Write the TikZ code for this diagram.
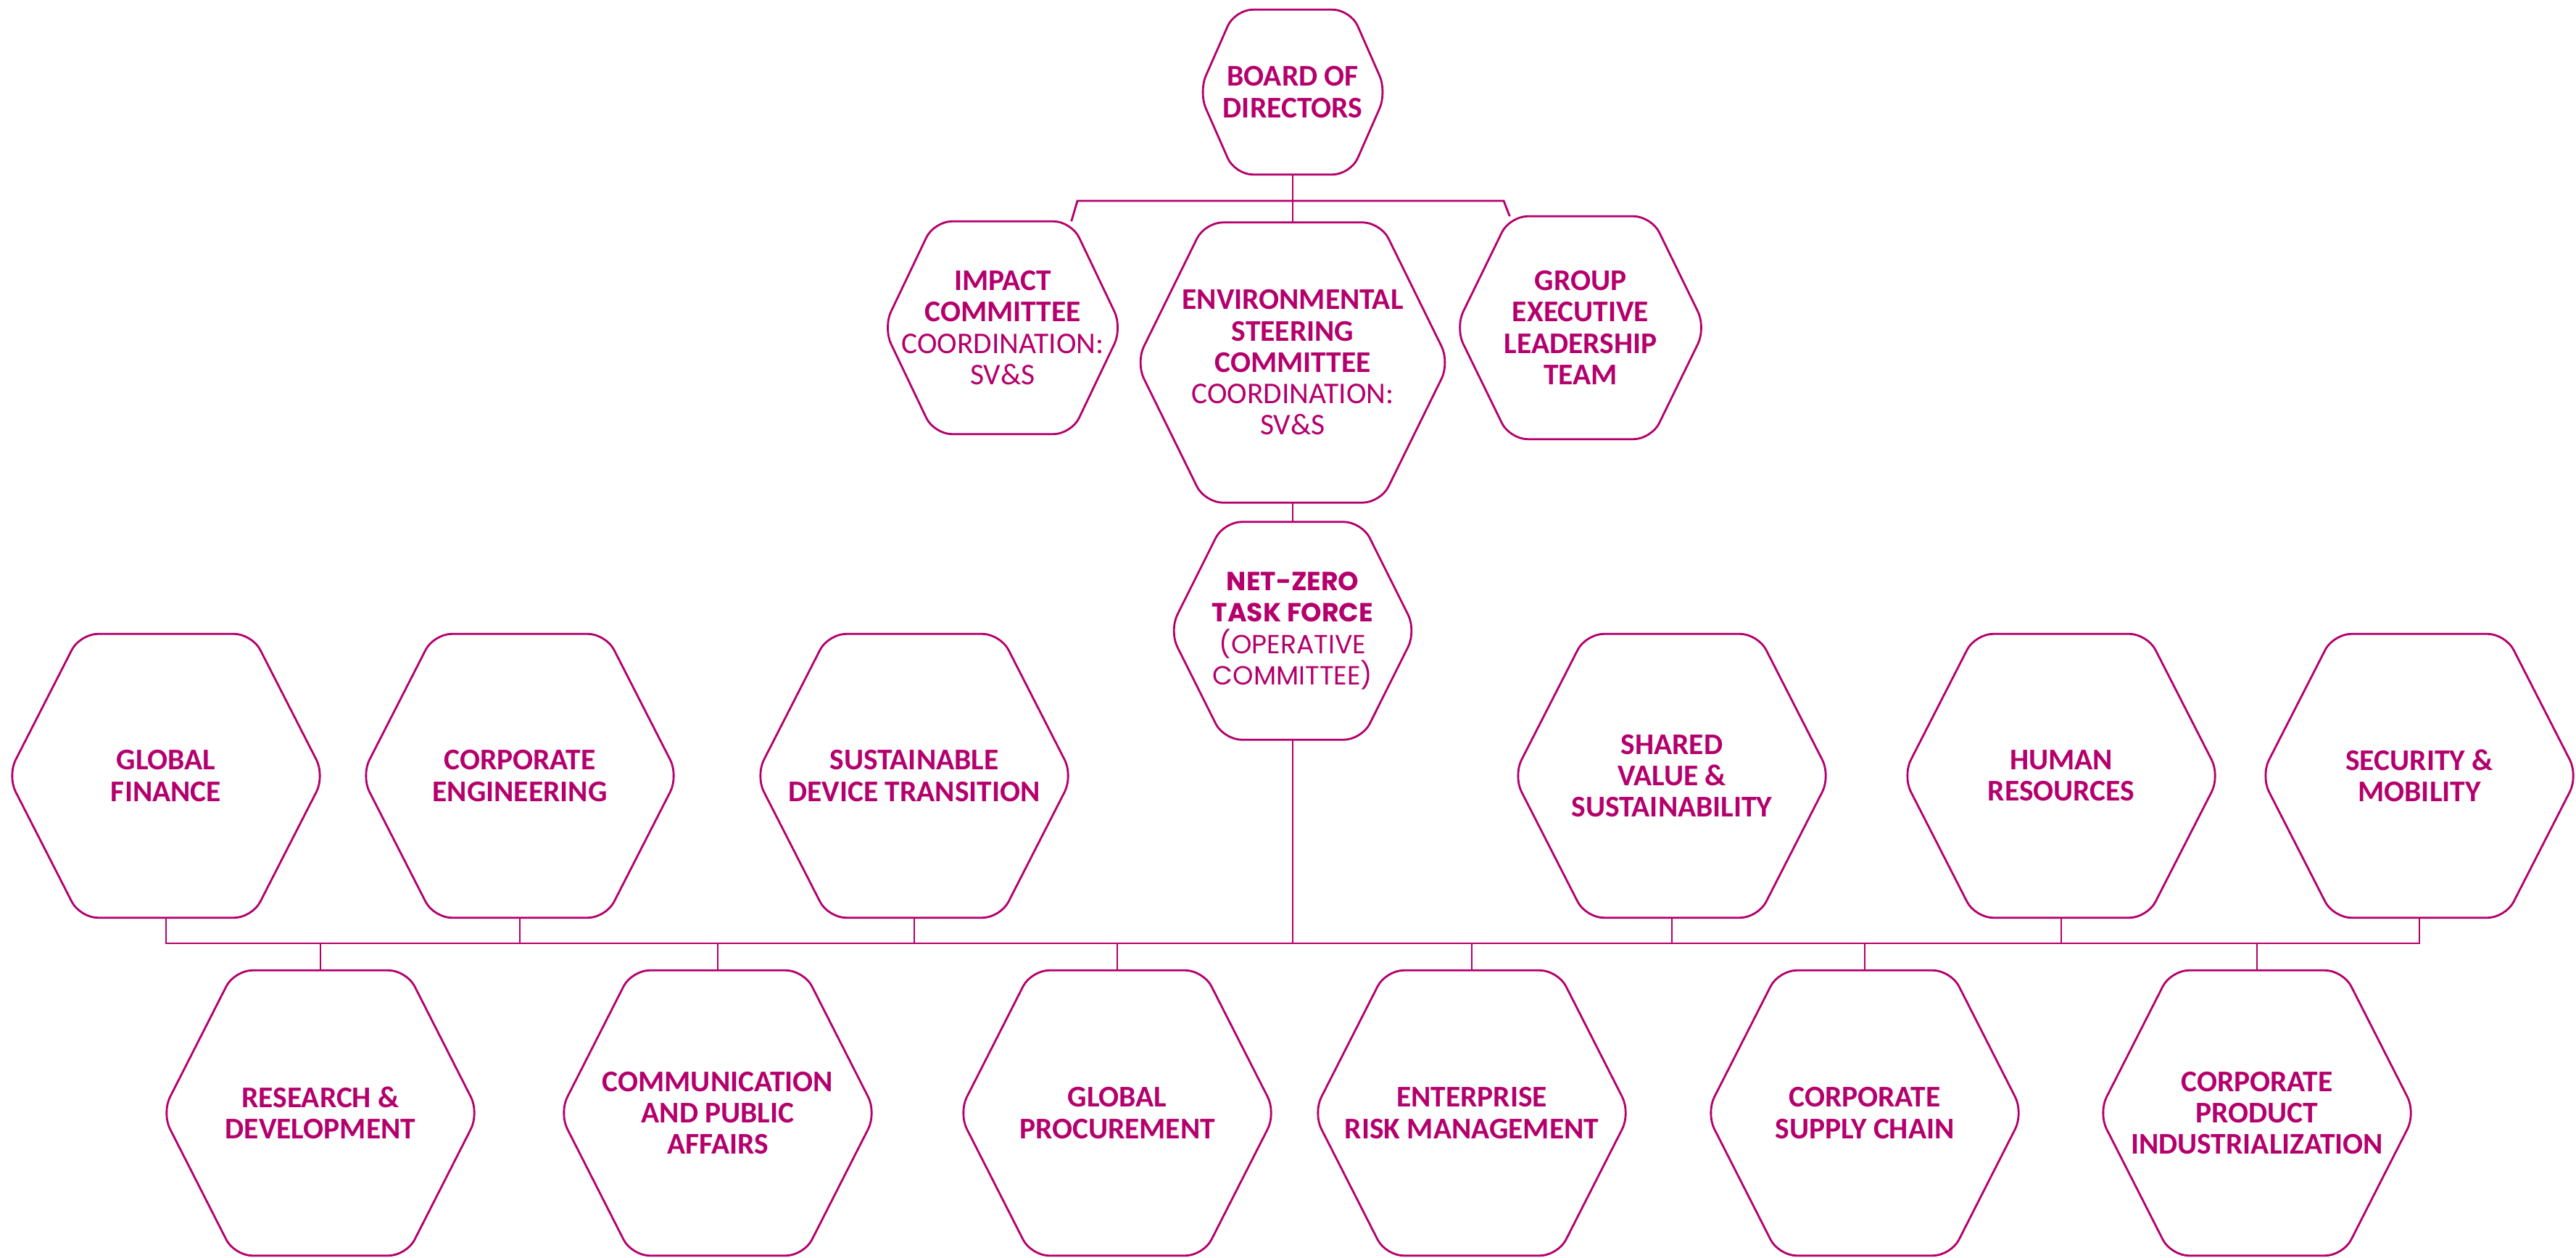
\documentclass[tikz,border=0pt]{standalone}
\usepackage{fontspec}
\setmainfont{Carlito}
\newfontfamily\popfont{Poppins}
\usetikzlibrary{calc}
\definecolor{brand}{RGB}{180,0,108}
\tikzset{
  hexbox/.style={inner sep=0pt, align=center, text=brand, font=\fontsize{11.8}{12.3}\selectfont\bfseries},
  hexline/.style={draw=brand, line width=0.8pt, rounded corners=7pt},
  conn/.style={draw=brand, line width=0.8pt}
}
% name, x, y, w, h, inset, text
\newcommand\hexnode[7]{%
  \node[hexbox, minimum width=#4cm, minimum height=#5cm] (#1) at (#2,#3) {#7};
  \coordinate (#1-tl) at ($(#1.north west)+(#6,0)$);
  \coordinate (#1-tr) at ($(#1.north east)+(-#6,0)$);
  \draw[hexline] (#1.west) -- (#1-tl) -- (#1-tr) -- (#1.east)
    -- ($(#1.south east)+(-#6,0)$) -- ($(#1.south west)+(#6,0)$) -- cycle;
}
\newcommand\lt[1]{{\mdseries #1}}
\newcommand\pf{\popfont\fontsize{10.3}{12.2}\selectfont}
\begin{document}
\begin{tikzpicture}[x=1cm,y=-1cm]
\useasboundingbox (0,0) rectangle (35.53,17.35);
% top part
\hexnode{board}{17.83}{1.27}{2.58}{2.26}{0.5}{BOARD OF\\DIRECTORS}
\hexnode{imp}{13.83}{4.52}{3.28}{2.92}{0.7}{IMPACT\\COMMITTEE\\\lt{COORDINATION:}\\\lt{SV\&S}}
\hexnode{esc}{17.83}{5.00}{4.31}{3.85}{0.95}{ENVIRONMENTAL\\STEERING\\COMMITTEE\\\lt{COORDINATION:}\\\lt{SV\&S}}
\hexnode{grp}{21.80}{4.52}{3.44}{3.06}{0.75}{GROUP\\EXECUTIVE\\LEADERSHIP\\TEAM}
\hexnode{nztf}{17.83}{8.70}{3.39}{2.99}{0.75}{\pf NET-ZERO\\\pf TASK FORCE\\\pf\mdseries (OPERATIVE\\\pf\mdseries COMMITTEE)}
% top row
\hexnode{gf}{2.29}{10.70}{4.36}{3.90}{1.0}{GLOBAL\\FINANCE}
\hexnode{ce}{7.17}{10.70}{4.36}{3.90}{1.0}{CORPORATE\\ENGINEERING}
\hexnode{sdt}{12.61}{10.70}{4.36}{3.90}{1.0}{SUSTAINABLE\\DEVICE TRANSITION}
\hexnode{sv}{23.06}{10.70}{4.36}{3.90}{1.0}{SHARED\\VALUE \&\\SUSTAINABILITY}
\hexnode{hr}{28.43}{10.70}{4.36}{3.90}{1.0}{HUMAN\\RESOURCES}
\hexnode{sm}{33.37}{10.70}{4.36}{3.90}{1.0}{SECURITY \&\\MOBILITY}
% bottom row
\hexnode{rd}{4.42}{15.35}{4.36}{3.92}{1.0}{RESEARCH \&\\DEVELOPMENT}
\hexnode{cpa}{9.90}{15.35}{4.36}{3.92}{1.0}{COMMUNICATION\\AND PUBLIC\\AFFAIRS}
\hexnode{gp}{15.41}{15.35}{4.36}{3.92}{1.0}{GLOBAL\\PROCUREMENT}
\hexnode{erm}{20.30}{15.35}{4.36}{3.92}{1.0}{ENTERPRISE\\RISK MANAGEMENT}
\hexnode{csc}{25.72}{15.35}{4.36}{3.92}{1.0}{CORPORATE\\SUPPLY CHAIN}
\hexnode{cpi}{31.13}{15.35}{4.36}{3.92}{1.0}{CORPORATE\\PRODUCT\\INDUSTRIALIZATION}
% connectors top
\coordinate (barL) at (14.86,2.77);
\coordinate (barR) at (20.74,2.77);
\draw[conn] (imp-tr) -- (barL) -- (barR) -- (grp-tl);
\draw[conn] (board.south) -- (esc.north);
\draw[conn] (esc.south) -- (nztf.north);
% main bar
\coordinate (bar) at (17.83,13.01);
\draw[conn] (gf.south) -- (gf.south |- bar) -- (sm.south |- bar) -- (sm.south);
\draw[conn] (nztf.south) -- (bar);
\foreach \n in {ce,sdt,sv,hr}{\draw[conn] (\n.south) -- (\n.south |- bar);}
\foreach \n in {rd,cpa,gp,erm,csc,cpi}{\draw[conn] (\n.north) -- (\n.north |- bar);}
\end{tikzpicture}
\end{document}
